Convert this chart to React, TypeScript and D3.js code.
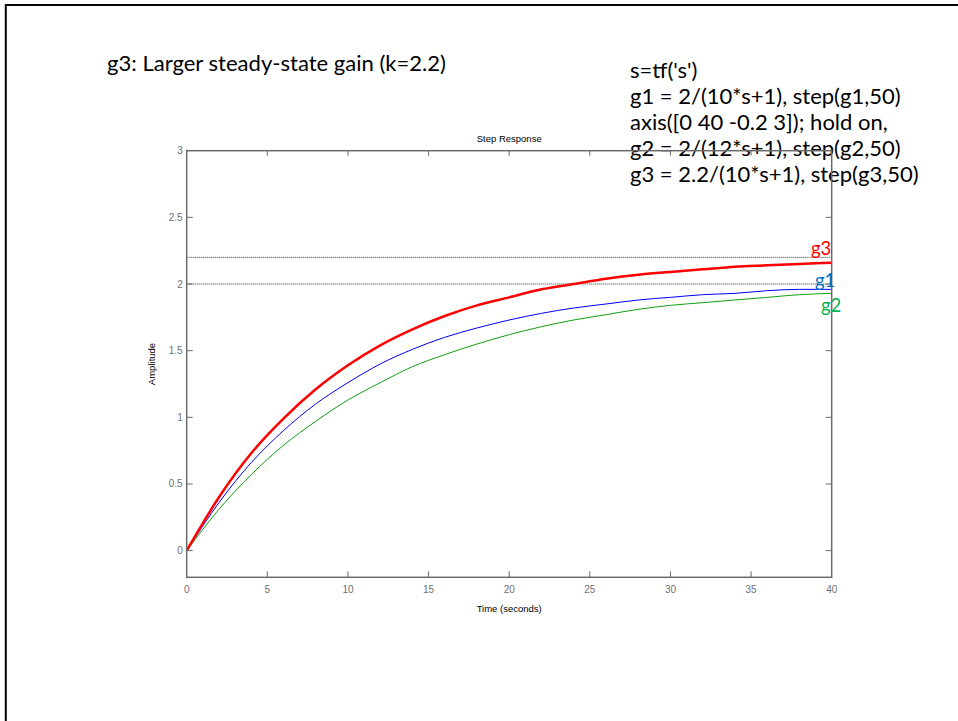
import React from "react";
import * as d3 from "d3";

const timeSec = [0, 2, 4, 6, 8, 10, 12, 14, 16, 18, 20, 22, 24, 26, 28, 30, 32, 34, 36, 38, 40];
const g1Values = [0, 0.36, 0.66, 0.90, 1.10, 1.26, 1.40, 1.51, 1.60, 1.67, 1.73, 1.78, 1.82, 1.85, 1.88, 1.90, 1.92, 1.93, 1.95, 1.96, 1.96];
const g2Values = [0, 0.31, 0.57, 0.79, 0.97, 1.13, 1.26, 1.38, 1.47, 1.55, 1.62, 1.68, 1.73, 1.77, 1.81, 1.84, 1.86, 1.88, 1.90, 1.92, 1.93];
const g3Values = [0, 0.40, 0.73, 0.99, 1.21, 1.39, 1.54, 1.66, 1.76, 1.84, 1.90, 1.96, 2.00, 2.04, 2.07, 2.09, 2.11, 2.13, 2.14, 2.15, 2.16];
const xTicks = [0, 5, 10, 15, 20, 25, 30, 35, 40];
const yTicks = [0, 0.5, 1, 1.5, 2, 2.5, 3];
const refLevels = [2, 2.2];
const codeLines = [
  "s=tf('s')",
  "g1 = 2/(10*s+1), step(g1,50)",
  "axis([0 40 -0.2 3]); hold on,",
  "g2 = 2/(12*s+1), step(g2,50)",
  "g3 = 2.2/(10*s+1), step(g3,50)",
];
const slideTitle = "g3: Larger steady-state gain (k=2.2)";

const W = 958;
const H = 721;
const L = 186.7, R = 831.7, T = 150.7, B = 577.3;

export default function App() {
  const x = d3.scaleLinear().domain([0, 40]).range([L, R]);
  const y = d3.scaleLinear().domain([-0.2, 3]).range([B, T]);
  const mk = (vals: number[]) =>
    d3.line<number>().x((_, i) => x(timeSec[i])).y((v) => y(v)).curve(d3.curveMonotoneX)(vals) || "";
  const axisColor = "#6a6a6a";
  const tickFont = "'Liberation Sans', Arial, sans-serif";
  const textFont = "Lato, 'Open Sans', sans-serif";
  return (
    <svg width={W} height={H} style={{ position: "absolute", left: 0, top: 0, background: "#fff" }}>
      <rect x={0} y={0} width={W} height={H} fill="#fff" />
      {/* slide border */}
      <line x1={5.8} y1={5} x2={W} y2={5} stroke="#000" strokeWidth={2} />
      <line x1={5.8} y1={4} x2={5.8} y2={H} stroke="#000" strokeWidth={2} />

      <text x={107} y={71} fontFamily={textFont} fontSize={21} fill="#000" textLength={339} lengthAdjust="spacingAndGlyphs">{slideTitle}</text>
      {codeLines.map((s, i) => (
        <text key={i} x={630} y={78 + i * 26} fontFamily={textFont} fontSize={22} fill="#000">{s}</text>
      ))}

      {/* plot area */}
      {refLevels.map((v) => (
        <line key={v} x1={L} x2={R} y1={y(v)} y2={y(v)} stroke="#000" strokeWidth={0.8} strokeDasharray="1,1" />
      ))}
      <path d={mk(g2Values)} fill="none" stroke="#10a010" strokeWidth={1} />
      <path d={mk(g1Values)} fill="none" stroke="#0000ff" strokeWidth={1} />
      <path d={mk(g3Values)} fill="none" stroke="#ff0000" strokeWidth={2.5} />

      {/* axes box */}
      <rect x={L} y={T} width={R - L} height={B - T} fill="none" stroke={axisColor} strokeWidth={1.5} />
      {xTicks.map((t) => (
        <g key={"x" + t}>
          {t > 0 && t < 40 && <line x1={x(t)} x2={x(t)} y1={B} y2={B - 6} stroke={axisColor} strokeWidth={1} />}
          {t > 0 && t < 40 && <line x1={x(t)} x2={x(t)} y1={T} y2={T + 5} stroke={axisColor} strokeWidth={1} />}
          <text x={x(t)} y={B + 16} textAnchor="middle" fontFamily={tickFont} fontSize={10} fill="#707070">{t}</text>
        </g>
      ))}
      {yTicks.map((t) => (
        <g key={"y" + t}>
          {t < 3 && <line x1={L} x2={L + 6} y1={y(t)} y2={y(t)} stroke={axisColor} strokeWidth={1} />}
          {t < 3 && <line x1={R} x2={R - 6} y1={y(t)} y2={y(t)} stroke={axisColor} strokeWidth={1} />}
          <text x={L - 4} y={y(t) + 3.5} textAnchor="end" fontFamily={tickFont} fontSize={10} fill="#707070">{t}</text>
        </g>
      ))}
      <text x={(L + R) / 2} y={142} textAnchor="middle" fontFamily={tickFont} fontSize={9.5} fill="#000">Step Response</text>
      <text x={(L + R) / 2} y={612} textAnchor="middle" fontFamily={tickFont} fontSize={9.5} fill="#000">Time (seconds)</text>
      <text transform={`translate(155,${(T + B) / 2}) rotate(-90)`} textAnchor="middle" fontFamily={tickFont} fontSize={9.5} fill="#000">Amplitude</text>

      <text x={811} y={255} fontFamily={textFont} fontSize={18.5} fill="#ff0000">g3</text>
      <text x={815} y={287} fontFamily={textFont} fontSize={18.5} fill="#0070c0">g1</text>
      <text x={821} y={312} fontFamily={textFont} fontSize={18.5} fill="#00b050">g2</text>
    </svg>
  );
}
